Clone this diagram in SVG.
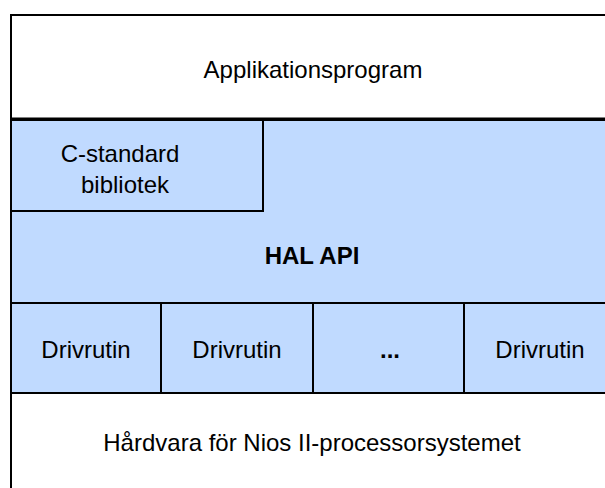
<svg xmlns="http://www.w3.org/2000/svg" width="605" height="488" viewBox="0 0 605 488">
<style>
.blue{fill:#c0daff;stroke:#000;stroke-width:2}
.white{fill:#fff;stroke:#000;stroke-width:2}
text{font-family:"Liberation Sans",Arial,sans-serif;font-size:24px;fill:#000;text-anchor:middle}
.b{font-weight:bold}
</style>
<rect width="605" height="488" fill="#fff"/>
<g id="app">
<rect class="white" x="11" y="15" width="610" height="104"/>
<text x="313" y="78">Applikationsprogram</text>
</g>
<g id="hal">
<rect class="blue" x="11" y="120" width="610" height="183"/>
<text class="b" x="312" y="264">HAL API</text>
</g>
<line x1="10" y1="119" x2="605" y2="119" stroke="#000" stroke-width="3"/>
<g id="clib">
<rect class="blue" x="11" y="120" width="252" height="91"/>
<text x="120" y="162">C-standard</text>
<text x="125" y="193">bibliotek</text>
</g>
<g id="drv1">
<rect class="blue" x="11" y="303" width="150" height="90"/>
<text x="86" y="358">Drivrutin</text>
</g>
<g id="drv2">
<rect class="blue" x="161" y="303" width="152" height="90"/>
<text x="237" y="358">Drivrutin</text>
</g>
<g id="drv3">
<rect class="blue" x="313" y="303" width="151" height="90"/>
<text class="b" x="390" y="358">...</text>
</g>
<g id="drv4">
<rect class="blue" x="464" y="303" width="152" height="90"/>
<text x="540" y="358">Drivrutin</text>
</g>
<g id="hw">
<rect class="white" x="11" y="393" width="610" height="110"/>
<text x="312" y="451">Hårdvara för Nios II-processorsystemet</text>
</g>
<g id="connectors"></g>
</svg>
